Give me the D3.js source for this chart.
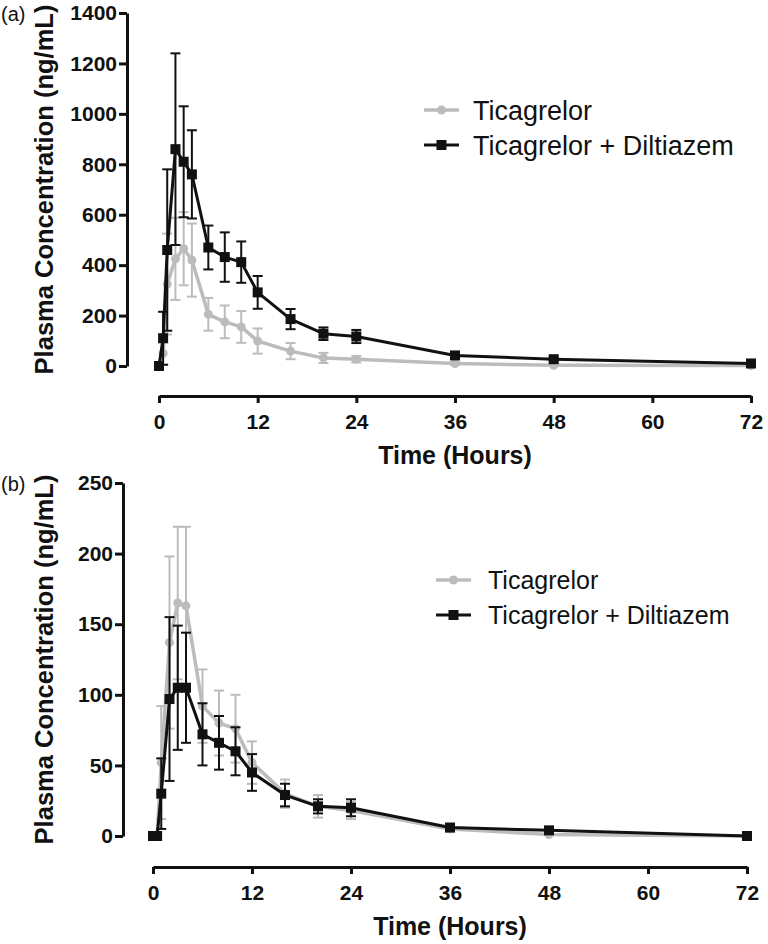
<!DOCTYPE html>
<html><head><meta charset="utf-8">
<script src="https://cdn.jsdelivr.net/npm/d3@7"></script>
<style>
html,body{margin:0;padding:0;background:#fff;}
svg{display:block;font-family:"Liberation Sans",Arial,sans-serif;}
</style></head>
<body><svg id="c" width="768" height="944"></svg>
<script>
// ---- data ----
const times = [0, 0.5, 1, 2, 3, 4, 6, 8, 10, 12, 16, 20, 24, 36, 48, 72];
const xTicks = [0, 12, 24, 36, 48, 60, 72];
const seriesNames = ["Ticagrelor", "Ticagrelor + Diltiazem"];

// panel (a)
const aTicaMean = [0, 50, 325, 425, 465, 420, 205, 175, 155, 99, 59, 32, 27, 10, 3, 2];
const aTicaSD   = [0, 45, 200, 163, 145, 145, 65, 65, 63, 50, 32, 20, 13, 6, 3, 2];
const aDilMean  = [0, 110, 460, 860, 810, 760, 470, 432, 412, 292, 186, 128, 117, 42, 27, 10];
const aDilSD    = [0, 105, 320, 380, 220, 175, 87, 98, 82, 65, 40, 25, 26, 8, 6, 4];
const aYTicks   = [0, 200, 400, 600, 800, 1000, 1200, 1400];

// panel (b)
const bTicaMean = [0, 0, 52, 137, 165, 163, 92, 80, 76, 52, 30, 21, 18, 5, 1, 0];
const bTicaSD   = [0, 0, 40, 61, 54, 56, 26, 23, 24, 15, 10, 8, 6, 2, 1, 0];
const bDilMean  = [0, 0, 30, 97, 105, 105, 72, 66, 60, 45, 29, 21, 20, 6, 4, 0];
const bDilSD    = [0, 0, 25, 58, 44, 39, 22, 19, 17, 13, 8, 5, 6, 2, 2, 0];
const bYTicks   = [0, 50, 100, 150, 200, 250];

const GRAY = "#bcbcbc", BLACK = "#111";
const svg = d3.select("#c");

function panel(cfg) {
  const g = svg.append("g");
  const x = d3.scaleLinear().domain([0, 72]).range([cfg.x0, cfg.x1]);
  const y = d3.scaleLinear().domain([0, cfg.yMax]).range([cfg.yb, cfg.yt]);

  const ya = g.append("g").attr("transform", `translate(${cfg.yAxisX},0)`)
    .call(d3.axisLeft(y).tickValues(cfg.yTicks).tickFormat(d3.format("d"))
      .tickSize(8).tickSizeOuter(0).tickPadding(2));
  const xa = g.append("g").attr("transform", `translate(0,${cfg.xAxisY})`)
    .call(d3.axisBottom(x).tickValues(xTicks).tickFormat(d3.format("d"))
      .tickSize(7).tickSizeOuter(0).tickPadding(11));
  [ya, xa].forEach(a => {
    a.select(".domain").attr("stroke", BLACK).attr("stroke-width", 3);
    a.selectAll(".tick line").attr("stroke", BLACK).attr("stroke-width", 3);
    a.selectAll(".tick text").attr("fill", BLACK).style("font-size", "21px").style("font-weight", "bold");
  });

  g.append("text").attr("x", (cfg.x0 + cfg.x1) / 2).attr("y", cfg.xAxisY + 68)
    .attr("text-anchor", "middle").style("font-size", "25px").style("font-weight", "bold")
    .attr("fill", BLACK).text("Time (Hours)");
  g.append("text").attr("transform", `translate(${cfg.yTitleX},${(cfg.yt + cfg.yb) / 2}) rotate(-90)`)
    .attr("text-anchor", "middle").style("font-size", "25.5px").style("font-weight", "bold")
    .attr("fill", BLACK).text("Plasma Concentration (ng/mL)");
  g.append("text").attr("x", 1).attr("y", cfg.labelY).style("font-size", "20px")
    .attr("fill", BLACK).text(cfg.label);

  const series = [
    {mean: cfg.tica, sd: cfg.ticaSD, color: GRAY, shape: "circle", lw: 3.5},
    {mean: cfg.dil, sd: cfg.dilSD, color: BLACK, shape: "square", lw: 3}
  ];
  series.forEach(s => {
    const pts = times.map((t, i) => ({t, m: s.mean[i], sd: s.sd[i]}));
    const eb = g.append("g").attr("stroke", s.color).attr("stroke-width", 2).attr("fill", "none");
    pts.filter(p => p.sd > 0).forEach(p => {
      const hi = y(p.m + p.sd), lo = y(Math.max(0, p.m - p.sd));
      eb.append("line").attr("x1", x(p.t)).attr("x2", x(p.t)).attr("y1", hi).attr("y2", lo);
      eb.append("line").attr("x1", x(p.t) - 5).attr("x2", x(p.t) + 5).attr("y1", hi).attr("y2", hi);
      if (p.m - p.sd > 0)
        eb.append("line").attr("x1", x(p.t) - 5).attr("x2", x(p.t) + 5).attr("y1", lo).attr("y2", lo);
    });
    g.append("path").datum(pts)
      .attr("d", d3.line().x(p => x(p.t)).y(p => y(p.m)))
      .attr("fill", "none").attr("stroke", s.color).attr("stroke-width", s.lw).attr("stroke-linejoin", "round");
    if (s.shape === "circle") {
      g.selectAll(null).data(pts).join("circle")
        .attr("cx", p => x(p.t)).attr("cy", p => y(p.m)).attr("r", 4.5).attr("fill", s.color);
    } else {
      g.selectAll(null).data(pts).join("rect")
        .attr("x", p => x(p.t) - 5).attr("y", p => y(p.m) - 5).attr("width", 10).attr("height", 10).attr("fill", s.color);
    }
  });

  const lg = g.append("g");
  series.forEach((s, i) => {
    const ly = cfg.legY + i * 35;
    lg.append("line").attr("x1", cfg.legX).attr("x2", cfg.legX + 35).attr("y1", ly).attr("y2", ly)
      .attr("stroke", s.color).attr("stroke-width", s.lw);
    if (s.shape === "circle")
      lg.append("circle").attr("cx", cfg.legX + 17.5).attr("cy", ly).attr("r", 4.5).attr("fill", s.color);
    else
      lg.append("rect").attr("x", cfg.legX + 12.5).attr("y", ly - 5).attr("width", 10).attr("height", 10).attr("fill", s.color);
    lg.append("text").attr("x", cfg.legX + cfg.legTextDx).attr("y", ly).attr("dy", "0.36em")
      .style("font-size", cfg.legFont + "px").attr("fill", BLACK).text(seriesNames[i]);
  });
}

panel({x0: 159, x1: 751, yt: 13, yb: 366, yMax: 1400, yTicks: aYTicks, yAxisX: 127, xAxisY: 396,
  yTitleX: 53, label: "(a)", labelY: 21, tica: aTicaMean, ticaSD: aTicaSD, dil: aDilMean, dilSD: aDilSD,
  legX: 424, legY: 110, legTextDx: 49, legFont: 27});
panel({x0: 153, x1: 747, yt: 483, yb: 836, yMax: 250, yTicks: bYTicks, yAxisX: 123, xAxisY: 867,
  yTitleX: 53, label: "(b)", labelY: 491, tica: bTicaMean, ticaSD: bTicaSD, dil: bDilMean, dilSD: bDilSD,
  legX: 436, legY: 580, legTextDx: 52, legFont: 25});
</script></body></html>
